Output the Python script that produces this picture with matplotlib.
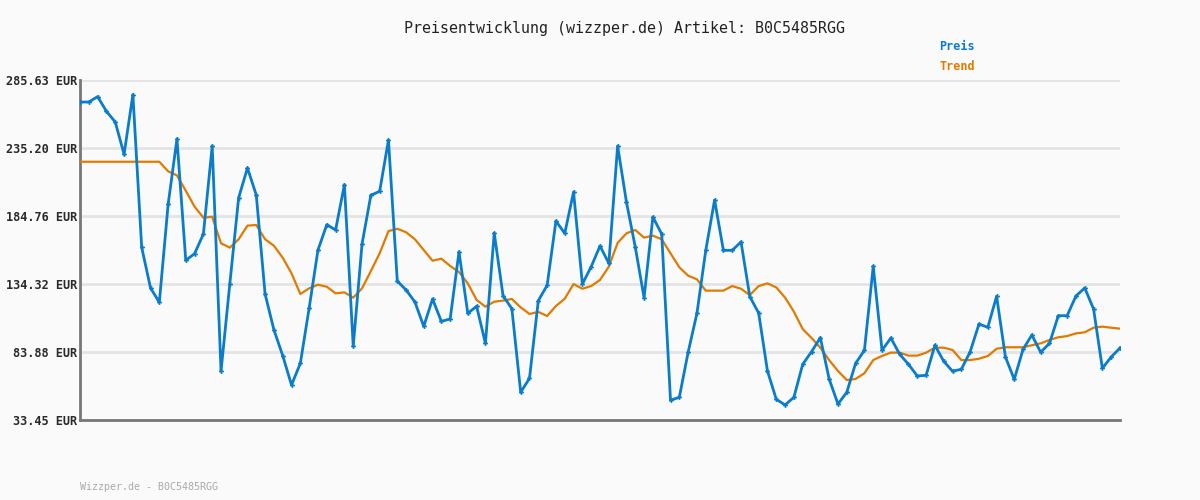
#!/usr/bin/env python3
# -*- coding: utf-8 -*-
"""Preisentwicklung B0C5485RGG -- Preis und Trend (gleitender Durchschnitt)."""

import matplotlib
matplotlib.use("Agg")
import matplotlib.pyplot as plt

# ============================
# Daten
# ============================
preis = [
    269.3, 269.3, 273.3, 262.4, 254.5, 230.5, 274.8, 161.5, 131.4, 120.7,
    193.4, 241.9, 151.9, 156.8, 171.4, 236.7, 69.6, 134.6, 198.3, 220.4,
    200.3, 126.9, 100.4, 81.2, 59.4, 75.5, 116.5, 159.5, 178.3, 174.4,
    208.0, 88.1, 164.0, 200.1, 203.1, 241.1, 136.5, 129.9, 121.0, 102.9,
    123.2, 106.6, 108.4, 158.1, 112.6, 117.8, 90.3, 172.1, 125.6, 116.0,
    54.0, 64.4, 122.0, 133.3, 181.0, 171.9, 202.6, 134.3, 147.2, 162.5,
    149.7, 236.7, 195.1, 161.8, 124.2, 184.0, 171.4, 48.1, 50.3, 83.7,
    112.6, 159.3, 196.6, 159.3, 159.3, 165.5, 124.9, 112.8, 69.8, 48.8,
    44.6, 50.3, 74.8, 84.1, 94.5, 63.9, 45.3, 54.0, 75.5, 85.1,
    147.4, 85.1, 94.3, 82.2, 74.8, 66.1, 66.6, 88.9, 77.0, 69.6,
    71.1, 84.1, 104.6, 102.2, 125.2, 80.2, 63.6, 85.9, 96.5, 83.7,
    90.3, 110.8, 110.8, 125.4, 131.4, 115.8, 71.8, 80.2, 86.9,
]

trend = [
    225.0, 225.0, 225.0, 225.0, 225.0, 225.0, 225.0, 225.0, 225.0, 225.0,
    217.9, 214.9, 203.5, 191.7, 183.5, 184.2, 164.5, 161.3, 167.5, 177.6,
    178.1, 167.5, 162.7, 153.8, 142.2, 126.9, 131.1, 133.8, 132.3, 127.4,
    128.1, 124.2, 131.1, 143.9, 157.1, 173.6, 175.3, 172.7, 167.5, 159.5,
    151.6, 153.1, 147.7, 143.2, 134.8, 122.5, 117.5, 121.2, 122.0, 123.2,
    117.0, 112.1, 113.6, 110.6, 118.0, 123.4, 134.3, 130.8, 132.8, 137.3,
    147.2, 164.8, 171.9, 174.4, 168.7, 170.2, 167.5, 157.1, 146.7, 140.5,
    137.8, 129.4, 129.4, 129.4, 132.8, 130.8, 126.1, 132.8, 134.8, 131.8,
    124.2, 113.8, 100.9, 94.3, 87.1, 77.9, 69.8, 63.1, 63.9, 68.1,
    77.9, 81.0, 83.4, 83.4, 81.2, 81.2, 83.4, 87.1, 87.1, 85.4,
    77.9, 77.9, 78.9, 80.9, 86.3, 87.4, 87.4, 87.4, 88.9, 90.3,
    92.8, 94.8, 95.7, 97.7, 98.5, 101.9, 102.7, 101.9, 101.2,
]

y_ticks = [33.45, 83.88, 134.32, 184.76, 235.20, 285.63]

artikel = "B0C5485RGG"

BLAU = "#0a7ccc"
ORANGE = "#e07b00"
BG = "#fafafa"
MONO = "DejaVu Sans Mono"

# ============================
# Plot
# ============================
fig = plt.figure(figsize=(12, 5), dpi=100, facecolor=BG)
ax = fig.add_axes([80 / 1200, 80 / 500, 1040 / 1200, 340 / 500])
ax.set_facecolor(BG)

x = list(range(len(preis)))
ax.plot(x, trend, color=ORANGE, lw=1.6, zorder=3)
ax.plot(x, preis, color=BLAU, lw=2.0, marker="P", ms=3.5,
        markeredgewidth=0, zorder=4)

ax.set_xlim(0, len(preis) - 1)
ax.set_ylim(y_ticks[0], y_ticks[-1])
ax.set_xticks([])
ax.set_yticks(y_ticks)
ax.set_yticklabels([f"{v:.2f} EUR" for v in y_ticks],
                   fontfamily=MONO, fontsize=8.6, fontweight="bold",
                   color="#2a2a2a")
ax.tick_params(axis="y", length=0, pad=2)
ax.grid(axis="y", color="#e4e4e4", lw=2)
ax.set_axisbelow(True)

for s in ("top", "right"):
    ax.spines[s].set_visible(False)
for s in ("left", "bottom"):
    ax.spines[s].set_color("#777777")
    ax.spines[s].set_linewidth(2)

fig.text(624 / 1200, 1 - 28 / 500,
         f"Preisentwicklung (wizzper.de) Artikel: {artikel}",
         ha="center", va="center", fontfamily=MONO, fontsize=10.8,
         color="#222222")
fig.text(939 / 1200, 1 - 47 / 500, "Preis", ha="left", va="center",
         fontfamily=MONO, fontsize=8.5, fontweight="bold", color=BLAU)
fig.text(939 / 1200, 1 - 67 / 500, "Trend", ha="left", va="center",
         fontfamily=MONO, fontsize=8.5, fontweight="bold", color=ORANGE)
fig.text(80 / 1200, 1 - 487 / 500, f"Wizzper.de - {artikel}",
         ha="left", va="center", fontfamily=MONO, fontsize=7.2,
         color="#aaaaaa")

fig.savefig("out.png", dpi=100, facecolor=BG)
